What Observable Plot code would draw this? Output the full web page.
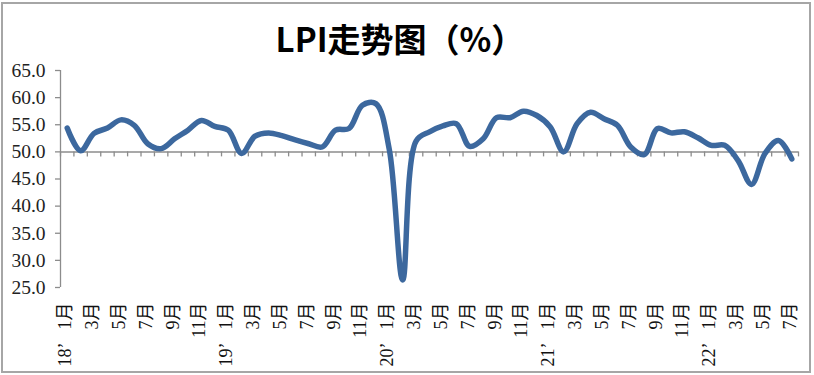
<!DOCTYPE html>
<html>
<head>
<meta charset="utf-8">
<script src="https://cdn.jsdelivr.net/npm/d3@7"></script>
<script src="https://cdn.jsdelivr.net/npm/@observablehq/plot@0.6"></script>
<style>
  html, body { margin: 0; padding: 0; background: #fff; }
  #wrap { position: relative; width: 814px; height: 375px; overflow: hidden; }
  #border { position: absolute; left: 1px; top: 2px; width: 806px; height: 367px; border: 2px solid #a6a6a6; box-sizing: content-box; }
  #title { position: absolute; left: 0; top: 20px; width: 800px; text-align: center;
           font-family: "Noto Sans CJK SC", sans-serif; font-weight: bold; font-size: 33px; line-height: 36px; color: #000; }
  #chart { position: absolute; left: 0; top: 0; }
</style>
</head>
<body>
<div id="wrap">
  <div id="border"></div>
  <div id="chart"></div>
  <div id="title">LPI走势图（%）</div>
</div>
<script>
const title = "LPI走势图（%）";
const yearLabels = ["18’", "19’", "20’", "21’", "22’"];
const monthNames = ["1月","2月","3月","4月","5月","6月","7月","8月","9月","10月","11月","12月"];
const yTicks = [25, 30, 35, 40, 45, 50, 55, 60, 65];

const lpi2018 = [54.4, 50.2, 53.4, 54.4, 55.9, 54.9, 51.5, 50.6, 52.4, 54.0, 55.8, 54.7];
const lpi2019 = [54.0, 49.7, 52.9, 53.5, 53.0, 52.2, 51.5, 50.9, 54.0, 54.3, 58.6, 58.9];
const lpi2020 = [50.5, 26.4, 52.0, 53.7, 54.8, 55.2, 51.0, 52.4, 56.3, 56.3, 57.5, 56.7];
const lpi2021 = [54.6, 50.0, 55.2, 57.3, 56.1, 54.9, 50.9, 49.5, 54.3, 53.5, 53.7, 52.6];
const lpi2022 = [51.2, 51.2, 48.4, 44.0, 49.7, 52.1, 48.7];

const series = [lpi2018, lpi2019, lpi2020, lpi2021, lpi2022];
const data = [];
series.forEach((arr, yi) => arr.forEach((v, mi) => {
  data.push({ i: data.length, year: yearLabels[yi], month: monthNames[mi], mi, v });
}));
const n = data.length;
const monthTicks = data.filter(d => d.mi % 2 === 0);
const yearTicks = data.filter(d => d.mi === 0);
const boundaries = d3.range(n + 1).map(k => k - 0.5);

const W = 814, H = 375;
const mTop = 70, mBottom = 88, mLeft = 60, mRight = 16;
const yMin = 25, yMax = 65, base = 50;
const tickLen = 5 * (yMax - yMin) / (H - mTop - mBottom);
const axisGray = "#8c8c8c";
const serif = "'Liberation Serif', 'Noto Sans CJK SC', serif";

const chart = Plot.plot({
  width: W, height: H,
  marginTop: mTop, marginBottom: mBottom, marginLeft: mLeft, marginRight: mRight,
  x: { type: "linear", domain: [-0.5, n - 0.5], axis: null },
  y: { type: "linear", domain: [yMin, yMax], axis: null },
  style: { background: "transparent", overflow: "visible" },
  marks: [
    Plot.ruleX([-0.5], { x: d => d, y1: yMin, y2: yMax, stroke: axisGray, strokeWidth: 1.3 }),
    Plot.ruleY(yTicks, { y: d => d, x1: -0.5, x2: -0.5, insetLeft: -5, stroke: axisGray, strokeWidth: 1.3 }),
    Plot.text(yTicks, { x: () => -0.5, y: d => d, text: d => d.toFixed(1), textAnchor: "end", dx: -15,
      fontFamily: serif, fontSize: 19.5, fill: "#222", style: "letter-spacing:2.5px" }),
    Plot.ruleY([base], { y: d => d, x1: -0.5, x2: n - 0.5, stroke: axisGray, strokeWidth: 1.5 }),
    Plot.ruleX(boundaries, { x: d => d, y1: base, y2: base - tickLen, stroke: axisGray, strokeWidth: 1.3 }),
    Plot.line(data, { x: "i", y: "v", curve: "catmull-rom", stroke: "#3c689e", strokeWidth: 5.5,
      strokeLinecap: "round", strokeLinejoin: "round" }),
    Plot.text(monthTicks, { x: "i", text: "month", frameAnchor: "bottom", dx: 4, dy: 15, rotate: -90,
      textAnchor: "end", fontFamily: serif, fontSize: 18, fill: "#111" }),
    Plot.text(yearTicks, { x: "i", text: "year", frameAnchor: "bottom", dx: 4, dy: 79, rotate: -90,
      textAnchor: "start", fontFamily: serif, fontSize: 18, fill: "#111" })
  ]
});
document.getElementById("chart").appendChild(chart);
</script>
</body>
</html>
